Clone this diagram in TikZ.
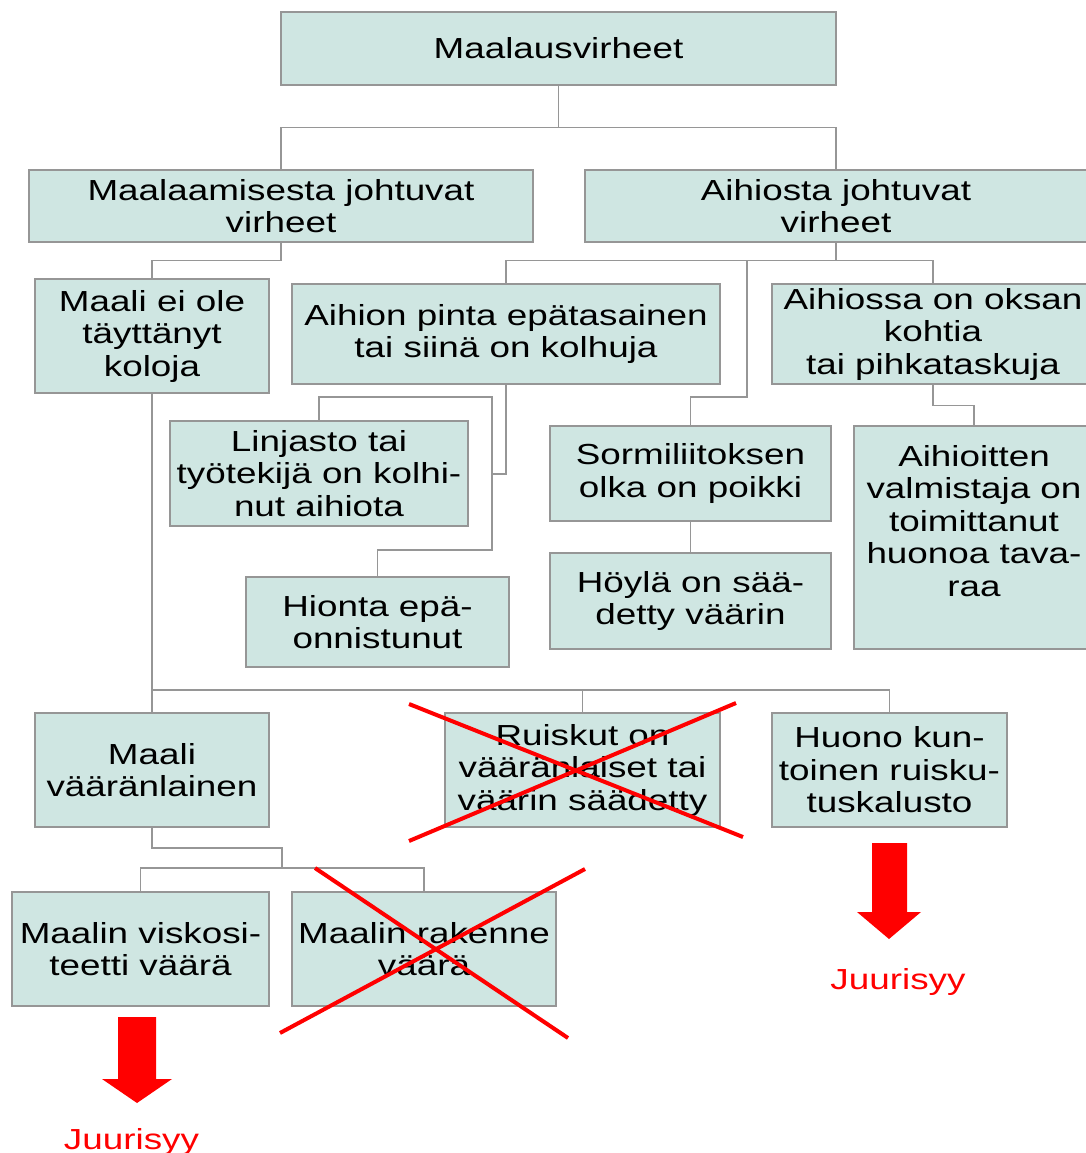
\documentclass[tikz,border=0pt]{standalone}
\usepackage{fontspec}
\setmainfont{Liberation Sans}[FakeStretch=1.27]
\definecolor{boxfill}{RGB}{207,230,226}
\definecolor{boxline}{RGB}{150,150,150}
\definecolor{wirecol}{RGB}{150,150,150}
\definecolor{markred}{RGB}{255,0,0}

\begin{document}
\begin{tikzpicture}[x=1pt,y=-1pt,
  box/.style={draw=boxline, line width=1.3pt, fill=boxfill, inner sep=0pt,
    align=center, font=\fontsize{29}{32.5}\selectfont},
  plainbox/.style={draw=boxline, line width=1.3pt, fill=boxfill, inner sep=0pt},
  boxtext/.style={inner sep=0pt, align=center, font=\fontsize{29}{32.5}\selectfont},
  wire/.style={draw=wirecol, line width=1.2pt},
  cross/.style={draw=markred, line width=4pt},
  rootcause/.style={text=markred, inner sep=0pt, font=\fontsize{29}{32.5}\selectfont},
  downarrow/.style={fill=markred, draw=none},
]
\fill[white] (0,0) rectangle (1086,1153);
\useasboundingbox (0,0) rectangle (1086,1153);

% ---- boxes ----
\node[box, minimum width=555pt, minimum height=73pt] (top) at (558.5,48.5) {Maalausvirheet};
\node[box, minimum width=504pt, minimum height=72pt] (mj) at (281,206) {Maalaamisesta johtuvat\\virheet};
\node[box, minimum width=502pt, minimum height=72pt] (aj) at (836,206) {Aihiosta johtuvat\\virheet};
\node[box, minimum width=234pt, minimum height=114pt] (koloja) at (152,336) {Maali ei ole\\täyttänyt\\koloja};
\node[box, minimum width=428pt, minimum height=100pt] (pinta) at (506,334) {Aihion pinta epätasainen\\tai siinä on kolhuja};
\node[box, minimum width=322pt, minimum height=100pt] (oksa) at (933,334) {Aihiossa on oksan\\kohtia\\tai pihkataskuja};
\node[box, minimum width=298pt, minimum height=105pt] (linjasto) at (319,473.5) {Linjasto tai\\työtekijä on kolhi-\\nut aihiota};
\node[box, minimum width=263pt, minimum height=90pt] (hionta) at (377.5,622) {Hionta epä-\\onnistunut};
\node[box, minimum width=281pt, minimum height=95pt] (sormi) at (690.5,473.5) {Sormiliitoksen\\olka on poikki};
\node[box, minimum width=281pt, minimum height=96pt] (hoyla) at (690.5,601) {Höylä on sää-\\detty väärin};
\node[plainbox, minimum width=240pt, minimum height=223pt] (valmistaja) at (974,537.5) {};
\node[boxtext] (valmistajatext) at (974,521) {Aihioitten\\valmistaja on\\toimittanut\\huonoa tava-\\raa};
\node[box, minimum width=234pt, minimum height=114pt] (vaaranlainen) at (152,770) {Maali\\vääränlainen};
\node[box, minimum width=275pt, minimum height=114pt] (ruiskut) at (582.5,770) {Ruiskut on\\vääränlaiset tai\\väärin säädetty};
\node[box, minimum width=235pt, minimum height=114pt] (huono) at (889.5,770) {Huono kun-\\toinen ruisku-\\tuskalusto};
\node[box, minimum width=257pt, minimum height=114pt] (viskositeetti) at (140.5,949) {Maalin viskosi-\\teetti väärä};
\node[box, minimum width=264pt, minimum height=114pt] (rakenne) at (424,949) {Maalin rakenne\\väärä};

% ---- junction points ----
\coordinate (k1) at (747,397);
\coordinate (k2) at (492,474);
\coordinate (k3) at (492,397);
\coordinate (k4) at (492,550);
\coordinate (k5) at (152,690);
\coordinate (k6) at (282,848);
\coordinate (k7) at (282,868);

% ---- connectors ----
\draw[wire] (top.south) -- ++(0,42) coordinate (j1);
\draw[wire] (mj.north) |- (j1) -| (aj.north);
\draw[wire] (mj.south) -- ++(0,18) coordinate (j2);
\draw[wire] (koloja.north) |- (j2);
\draw[wire] (aj.south) -- ++(0,18) coordinate (j3);
\draw[wire] (pinta.north) |- (j3) -| (oksa.north);
\draw[wire] (j3 -| k1) -- (k1) -| (sormi.north);
\draw[wire] (sormi.south) -- (hoyla.north);
\draw[wire] (oksa.south) -- ++(0,21) -| (valmistaja.north);
\draw[wire] (pinta.south) |- (k2);
\draw[wire] (linjasto.north) |- (k3) -- (k4) -| (hionta.north);
\draw[wire] (koloja.south) -- (vaaranlainen.north);
\draw[wire] (k5) -| (ruiskut.north);
\draw[wire] (k5) -| (huono.north);
\draw[wire] (vaaranlainen.south) |- (k6) -- (k7);
\draw[wire] (viskositeetti.north) |- (k7) -| (rakenne.north);

% ---- crossed-out causes ----
\draw[cross] (409,704) -- (743,837);
\draw[cross] (409,841) -- (736,703);
\draw[cross] (315,868) -- (568,1038);
\draw[cross] (280,1033) -- (585,869);

% ---- root cause arrows ----
\fill[downarrow] (118,1017) -- (156,1017) -- (156,1079) -- (172,1079) -- (137,1103)
  -- (102,1079) -- (118,1079) -- cycle;
\fill[downarrow] (872,843) -- (907,843) -- (907,912) -- (921,912) -- (889,939)
  -- (857,912) -- (872,912) -- cycle;
\node[rootcause, anchor=base] (rc1) at (131.5,1149) {Juurisyy};
\node[rootcause, anchor=base] (rc2) at (898,989) {Juurisyy};
\end{tikzpicture}
\end{document}
